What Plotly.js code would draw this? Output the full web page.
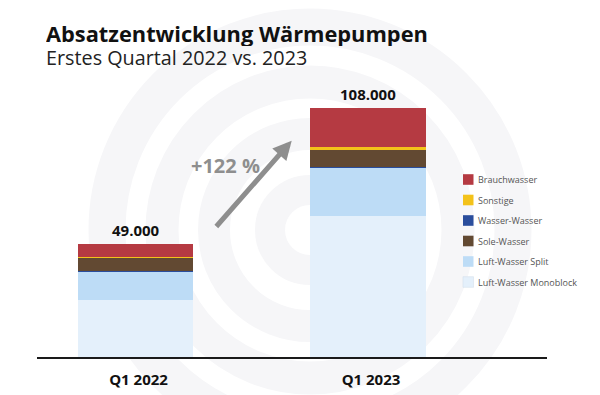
<!DOCTYPE html>
<html><head><meta charset="utf-8">
<script src="https://cdn.plot.ly/plotly-3.0.1.min.js"></script>
<style>html,body{margin:0;padding:0;background:#fff}</style>
</head><body><div id="chart" style="width:600px;height:395px"></div>
<script>
// ---- data ----
const categories = ['Q1 2022', 'Q1 2023'];
const seriesNames = ['Luft-Wasser Monoblock', 'Luft-Wasser Split', 'Wasser-Wasser', 'Sole-Wasser', 'Sonstige', 'Brauchwasser'];
const monoblock    = [24800, 61000];
const split        = [12300, 21000];
const wasserWasser = [400, 400];
const soleWasser   = [5300, 7300];
const sonstige     = [400, 1400];
const brauchwasser = [5800, 16900];
const totals       = [49000, 108000];
const totalLabels  = ['49.000', '108.000'];
const legendOrder  = ['Brauchwasser', 'Sonstige', 'Wasser-Wasser', 'Sole-Wasser', 'Luft-Wasser Split', 'Luft-Wasser Monoblock'];
const growthLabel  = '+122 %';
const titleText    = 'Absatzentwicklung Wärmepumpen';
const subtitleText = 'Erstes Quartal 2022 vs. 2023';

// ---- styles ----
const colors = ['#e4f0fb', '#bddcf6', '#2a4d9c', '#624932', '#f3c21a', '#b53a42'];
const values = [monoblock, split, wasserWasser, soleWasser, sonstige, brauchwasser];
const FONT = 'Open Sans, sans-serif';
const W = 600, H = 395, ML = 37, MR = 53, MT = 60, MB = 38;
const PW = W - ML - MR, PH = H - MT - MB;
const px2x = px => (px - ML) / PW;
const py2y = py => (H - MB - py) / PH;

const traces = values.map((v, i) => ({
  type: 'bar', name: seriesNames[i], x: categories, y: v,
  width: 0.495, marker: {color: colors[i], line: {width: 0}},
  hoverinfo: 'x+y+name', showlegend: false
}));

const shapes = [];
// faint background watermark rings
const cx = 310, cy = 230;
[[40, 30], [96, 32], [148, 33], [203, 37]].forEach(([r, w]) => {
  shapes.push({type: 'circle', xref: 'paper', yref: 'paper', layer: 'below',
    x0: px2x(cx - r), x1: px2x(cx + r), y0: py2y(cy + r), y1: py2y(cy - r),
    line: {color: '#f6f6f8', width: w}, fillcolor: 'rgba(0,0,0,0)'});
});

const annotations = [];
// custom legend
legendOrder.forEach((name, k) => {
  const i = seriesNames.indexOf(name);
  const yc = 179.5 + k * 20.5;
  shapes.push({type: 'rect', xref: 'paper', yref: 'paper',
    x0: px2x(463), x1: px2x(473.5), y0: py2y(yc + 5.3), y1: py2y(yc - 5.3),
    fillcolor: colors[i], line: {width: i === 0 ? 0.6 : 0, color: '#d5e0ec'}});
  annotations.push({xref: 'paper', yref: 'paper', x: px2x(476), y: py2y(yc),
    xanchor: 'left', yanchor: 'middle', showarrow: false, text: name,
    font: {family: FONT, size: 9, color: '#555'}});
});
// title & subtitle
annotations.push({xref: 'paper', yref: 'paper', x: px2x(44), y: py2y(33), xanchor: 'left', yanchor: 'middle',
  height: 25, valign: 'middle',
  showarrow: false, text: '<b>' + titleText + '</b>', font: {family: FONT, size: 21.8, color: '#111'}});
annotations.push({xref: 'paper', yref: 'paper', x: px2x(44), y: py2y(56.5), xanchor: 'left', yanchor: 'middle',
  height: 24, valign: 'middle',
  showarrow: false, text: subtitleText, font: {family: FONT, size: 19.8, color: '#222'}});
// totals
categories.forEach((c, i) => {
  annotations.push({x: c, y: totals[i], xref: 'x', yref: 'y', yanchor: 'bottom', yshift: 2,
    showarrow: false, text: '<b>' + totalLabels[i] + '</b>', font: {family: FONT, size: 15, color: '#111'}});
});
// growth arrow
annotations.push({xref: 'paper', yref: 'paper', x: px2x(291.7), y: py2y(140.7),
  ax: -76.7, ay: 87.3, axref: 'pixel', ayref: 'pixel', text: '', showarrow: true,
  arrowhead: 2, arrowsize: 0.75, arrowwidth: 5, arrowcolor: '#8e8e8e', standoff: 0});
annotations.push({xref: 'paper', yref: 'paper', x: px2x(225), y: py2y(165), xanchor: 'center', yanchor: 'middle',
  showarrow: false, text: '<b>' + growthLabel + '</b>', font: {family: FONT, size: 20, color: '#8e8e8e'}});

const layout = {
  width: W, height: H, margin: {l: ML, r: MR, t: MT, b: MB, pad: 0},
  paper_bgcolor: '#fff', plot_bgcolor: 'rgba(0,0,0,0)',
  barmode: 'stack', showlegend: false,
  font: {family: FONT},
  xaxis: {type: 'category', range: [-0.4237, 1.77], showgrid: false, zeroline: false,
    showline: true, linecolor: '#1a1a1a', linewidth: 2, ticks: '',
    ticklabelstandoff: 8, ticklabelshift: 3,
    tickfont: {family: FONT, size: 15, color: '#111', weight: 'bold'}, fixedrange: true},
  yaxis: {range: [0, 128900], visible: false, showgrid: false, zeroline: false, fixedrange: true},
  shapes: shapes, annotations: annotations
};

Plotly.newPlot('chart', traces, layout, {displayModeBar: false, staticPlot: true});
</script></body></html>
